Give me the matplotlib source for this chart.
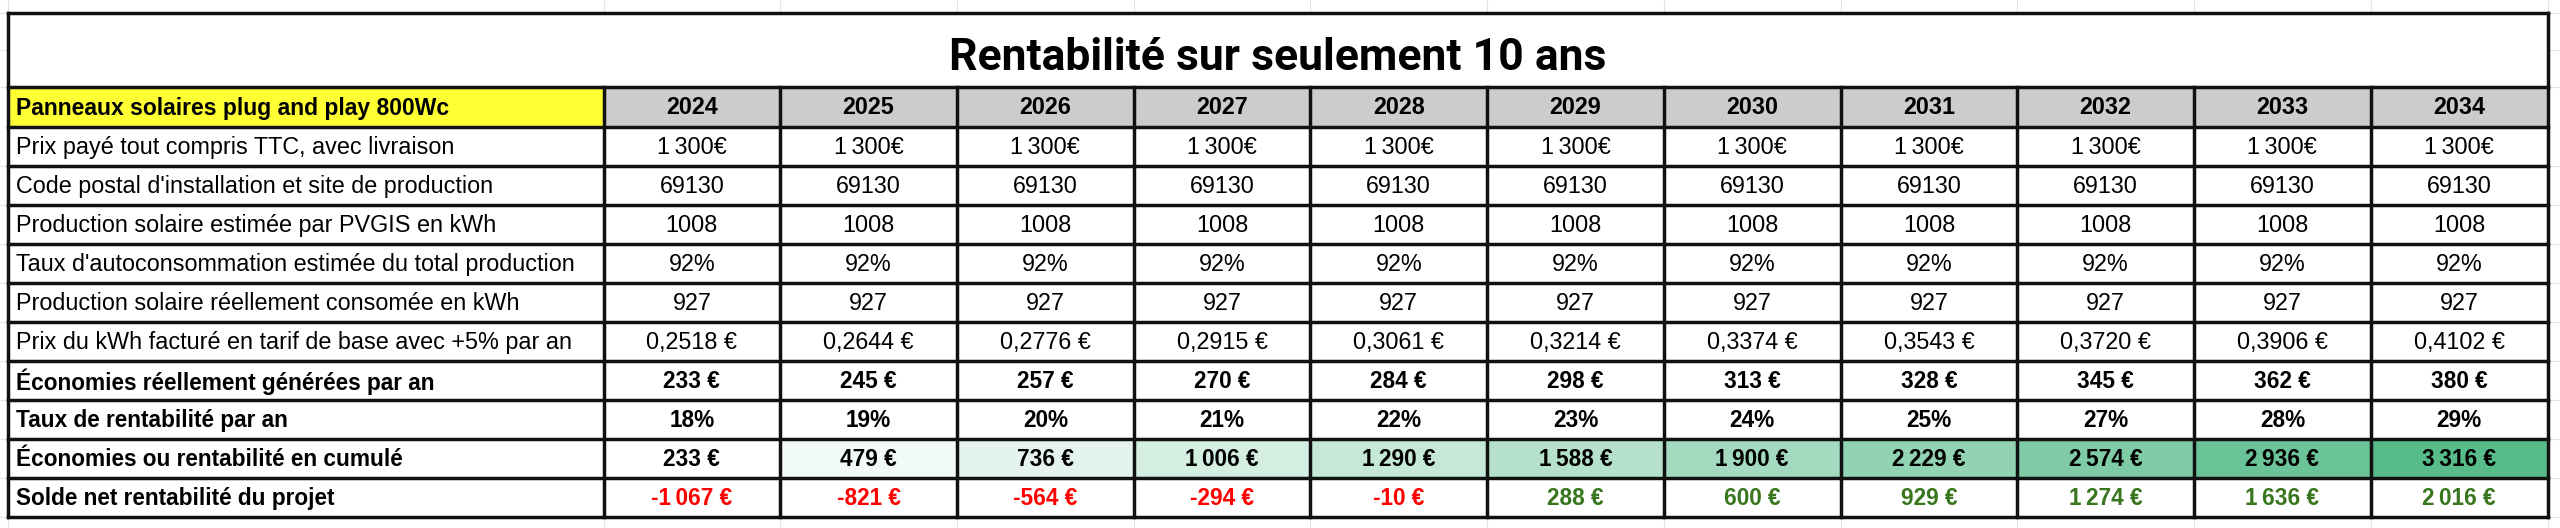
import matplotlib.pyplot as plt
from matplotlib.patches import Rectangle
from matplotlib.colors import LinearSegmentedColormap, Normalize

# Données du tableau
titre = "Rentabilité sur seulement 10 ans"
entete = "Panneaux solaires plug and play 800Wc"
annees = [2024, 2025, 2026, 2027, 2028, 2029, 2030, 2031, 2032, 2033, 2034]

libelles = [
    "Prix payé tout compris TTC, avec livraison",
    "Code postal d'installation et site de production",
    "Production solaire estimée par PVGIS en kWh",
    "Taux d'autoconsommation estimée du total production",
    "Production solaire réellement consomée en kWh",
    "Prix du kWh facturé en tarif de base avec +5% par an",
    "Économies réellement générées par an",
    "Taux de rentabilité par an",
    "Économies ou rentabilité en cumulé",
    "Solde net rentabilité du projet",
]

prix_paye = [1300] * 11
code_postal = [69130] * 11
production = [1008] * 11
taux_auto = [92] * 11
consommee = [927] * 11
prix_kwh = [0.2518, 0.2644, 0.2776, 0.2915, 0.3061, 0.3214, 0.3374, 0.3543, 0.3720, 0.3906, 0.4102]
economies = [233, 245, 257, 270, 284, 298, 313, 328, 345, 362, 380]
taux_rent = [18, 19, 20, 21, 22, 23, 24, 25, 27, 28, 29]
cumul = [233, 479, 736, 1006, 1290, 1588, 1900, 2229, 2574, 2936, 3316]
solde = [-1067, -821, -564, -294, -10, 288, 600, 929, 1274, 1636, 2016]

NB = "\u202f"


def euros(v, esp=" "):
    s = f"{abs(v):,}".replace(",", NB)
    return ("-" if v < 0 else "") + s + esp + "€"


lignes = [
    [euros(v, "") for v in prix_paye],
    [str(v) for v in code_postal],
    [str(v) for v in production],
    [f"{v}%" for v in taux_auto],
    [str(v) for v in consommee],
    [f"{v:.4f}".replace(".", ",") + " €" for v in prix_kwh],
    [euros(v) for v in economies],
    [f"{v}%" for v in taux_rent],
    [euros(v) for v in cumul],
    [euros(v) for v in solde],
]
gras = [False] * 6 + [True] * 4

# Géométrie (pixels)
W, H = 2560, 528
x0, x1 = 7.5, 2547.5
xc = 603.5
y_top, y_head, y_body = 12.5, 86.5, 126.5
pas = 39.0
col_w = (x1 - xc) / len(annees)
cols = [x0, xc] + [xc + col_w * (i + 1) for i in range(len(annees))]
rows = [y_body + pas * i for i in range(len(lignes) + 1)]

fig = plt.figure(figsize=(W / 100, H / 100), dpi=100)
ax = fig.add_axes([0, 0, 1, 1])
ax.set_xlim(0, W)
ax.set_ylim(H, 0)
ax.axis("off")

# quadrillage du tableur en fond
grid_y = [13, 50, 87] + rows[1:] + [rows[-1] + pas]
for y in grid_y:
    ax.axhline(y, color="#e2e2e2", lw=0.8, zorder=0)
for x in cols:
    ax.axvline(x, color="#e2e2e2", lw=0.8, zorder=0)

ax.add_patch(Rectangle((x0, y_top), x1 - x0, rows[-1] - y_top, fc="white", ec="none", zorder=1))

# en-têtes
ax.add_patch(Rectangle((x0, y_head), xc - x0, y_body - y_head, fc="#ffff33", ec="none", zorder=2))
ax.add_patch(Rectangle((xc, y_head), x1 - xc, y_body - y_head, fc="#cccccc", ec="none", zorder=2))

# échelle de couleur du cumul
cmap = LinearSegmentedColormap.from_list("vert", ["#ffffff", "#57bb8a"])
norm = Normalize(min(cumul), max(cumul))
for j, v in enumerate(cumul):
    ax.add_patch(Rectangle((cols[j + 1], rows[8]), col_w, pas, fc=cmap(norm(v)), ec="none", zorder=2))

fam = ["Liberation Sans", "DejaVu Sans"]
ax.text((x0 + x1) / 2, (y_top + y_head) / 2 + 8, titre, ha="center", va="center",
        fontsize=32, fontweight="bold", family=["Roboto", "DejaVu Sans"], zorder=4)
ax.text(x0 + 8, (y_head + y_body) / 2 + 1.5, entete, ha="left", va="center",
        fontsize=16.5, fontweight="bold", family=fam, zorder=4)
for j, a in enumerate(annees):
    ax.text(cols[j + 1] + col_w / 2, (y_head + y_body) / 2 + 1.5, str(a), ha="center", va="center",
            fontsize=16.8, fontweight="bold", family=fam, zorder=4)

for i, (lab, vals) in enumerate(zip(libelles, lignes)):
    yc = rows[i] + pas / 2 + 1.5
    w = "bold" if gras[i] else "normal"
    fs = 16.3 if gras[i] else 16.8
    ax.text(x0 + 8, yc, lab, ha="left", va="center", fontsize=fs, fontweight=w, family=fam, zorder=4)
    for j, s in enumerate(vals):
        c = "black"
        if i == 9:
            c = "#ff0000" if solde[j] < 0 else "#38761d"
        ax.text(cols[j + 1] + col_w / 2, yc, s, ha="center", va="center", fontsize=fs,
                fontweight=w, color=c, family=fam, zorder=4)

# bordures
lw = 2.5
for y in [y_top, y_head] + rows:
    ax.plot([x0, x1], [y, y], color="#111111", lw=lw, solid_capstyle="projecting", zorder=5)
for x in cols:
    top = y_top if x in (x0, x1) else y_head
    ax.plot([x, x], [top, rows[-1]], color="#111111", lw=lw, solid_capstyle="projecting", zorder=5)

fig.savefig("out.png", dpi=100)
